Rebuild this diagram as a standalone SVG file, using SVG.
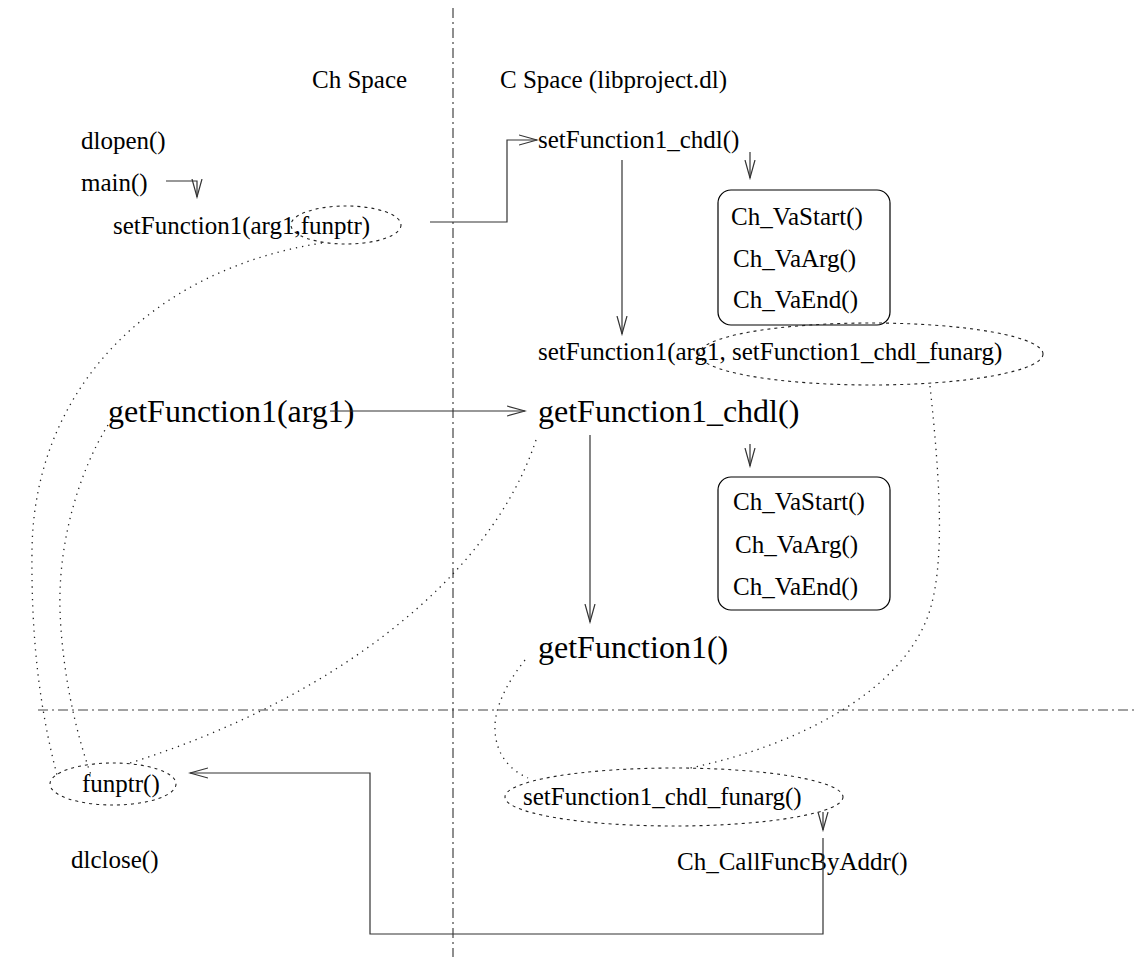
<svg xmlns="http://www.w3.org/2000/svg" width="1135" height="957" viewBox="0 0 1135 957">
<defs>
<style>
text{font-family:"Liberation Serif","Times New Roman",serif;fill:#000}
.s{font-size:25px}
.b{font-size:32px}
.ln{fill:none;stroke:#333;stroke-width:1.2}
.dd{fill:none;stroke:#444;stroke-width:1.2;stroke-dasharray:10,4,2,4}
.dot{fill:none;stroke:#222;stroke-width:1.3;stroke-dasharray:1.3,5}
.dash{fill:none;stroke:#222;stroke-width:1.1;stroke-dasharray:3,4}
.box{fill:none;stroke:#000;stroke-width:1.2}
</style>
<marker id="ah" markerWidth="20" markerHeight="12" refX="18" refY="6" orient="auto" markerUnits="userSpaceOnUse">
<path d="M0,1 L18,6 L0,11" fill="none" stroke="#333" stroke-width="1.2"/>
</marker>
</defs>
<rect width="1135" height="957" fill="#fff"/>
<g id="dividers">
<line class="dd" x1="453" y1="8" x2="453" y2="957"/>
<line class="dd" x1="38" y1="710" x2="1135" y2="710"/>
</g>
<g id="headers">
<text class="s" x="312" y="88">Ch Space</text>
<text class="s" x="500" y="88">C Space (libproject.dl)</text>
</g>
<g id="n-dlopen"><text class="s" x="81" y="149">dlopen()</text></g>
<g id="n-main"><text class="s" x="81" y="191">main()</text></g>
<g id="n-setfunction1">
<text class="s" x="113" y="234">setFunction1(arg1,funptr)</text>
<ellipse class="dash" cx="346" cy="225" rx="55" ry="19"/>
</g>
<g id="n-setfunction1-chdl"><text class="s" x="538" y="148">setFunction1_chdl()</text></g>
<g id="n-vabox1">
<rect class="box" x="718" y="190" width="172" height="135" rx="13"/>
<text class="s" x="731" y="225">Ch_VaStart()</text>
<text class="s" x="733" y="267">Ch_VaArg()</text>
<text class="s" x="733" y="308">Ch_VaEnd()</text>
</g>
<g id="n-setfunction1-call">
<text class="s" x="538" y="360">setFunction1(arg1, setFunction1_chdl_funarg)</text>
<ellipse class="dash" cx="871" cy="354" rx="172" ry="31"/>
</g>
<g id="n-getfunction1-arg"><text class="b" x="108" y="422">getFunction1(arg1)</text></g>
<g id="n-getfunction1-chdl"><text class="b" x="538" y="422">getFunction1_chdl()</text></g>
<g id="n-vabox2">
<rect class="box" x="718" y="477" width="172" height="133" rx="13"/>
<text class="s" x="733" y="510">Ch_VaStart()</text>
<text class="s" x="735" y="553">Ch_VaArg()</text>
<text class="s" x="733" y="595">Ch_VaEnd()</text>
</g>
<g id="n-getfunction1"><text class="b" x="538" y="658">getFunction1()</text></g>
<g id="n-funptr">
<text class="s" x="82" y="792">funptr()</text>
<ellipse class="dash" cx="113" cy="784" rx="63" ry="21"/>
</g>
<g id="n-dlclose"><text class="s" x="71" y="868">dlclose()</text></g>
<g id="n-funarg">
<text class="s" x="523" y="805">setFunction1_chdl_funarg()</text>
<ellipse class="dash" cx="674" cy="797" rx="169" ry="29"/>
</g>
<g id="n-callfunc"><text class="s" x="677" y="870">Ch_CallFuncByAddr()</text></g>
<g id="connectors">
<path class="ln" d="M166,181 H197 V197" marker-end="url(#ah)"/>
<path class="ln" d="M430,222 H507 V140 H537" marker-end="url(#ah)"/>
<path class="ln" d="M750,152 V178" marker-end="url(#ah)"/>
<path class="ln" d="M622,160 V334" marker-end="url(#ah)"/>
<path class="ln" d="M330,411 H525" marker-end="url(#ah)"/>
<path class="ln" d="M750,444 V466" marker-end="url(#ah)"/>
<path class="ln" d="M590,435 V622" marker-end="url(#ah)"/>
<path class="ln" d="M823,812 V830" marker-end="url(#ah)"/>
<path class="ln" d="M823,838 V934 H370 V773 H190" marker-end="url(#ah)"/>
<path class="dot" d="M322,243 C150,270 34,390 32,550 C31,640 40,710 57,775"/>
<path class="dot" d="M108,425 C80,470 58,540 60,610 C62,670 75,730 91,775"/>
<path class="dot" d="M536,440 C490,580 330,700 130,763"/>
<path class="dot" d="M930,386 C940,480 945,560 930,610 C905,690 800,745 690,768"/>
<path class="dot" d="M525,660 C505,685 494,710 495,730 C496,755 510,770 528,778"/>
</g>
</svg>
